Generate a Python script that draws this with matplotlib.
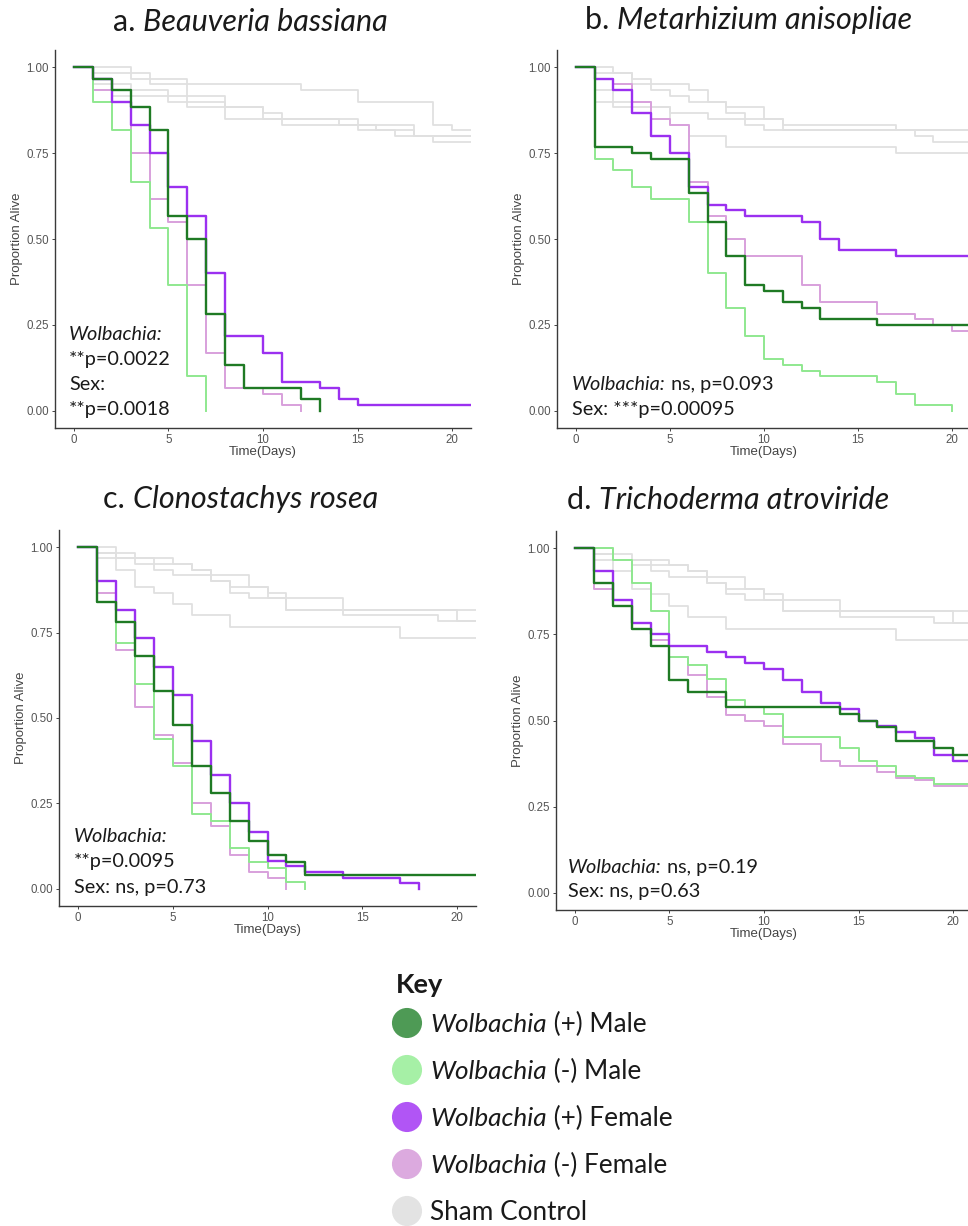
import matplotlib
matplotlib.use("Agg")
import matplotlib.pyplot as plt

W, H = 968, 1226

# ---- panel a: Beauveria bassiana ----
a_wpm_t = [0, 1, 2, 3, 4, 5, 6, 7, 8, 9, 12, 13]
a_wpm_s = [1.0, 0.967, 0.933, 0.883, 0.817, 0.567, 0.50, 0.283, 0.133, 0.067, 0.033, 0.0]
a_wmm_t = [0, 1, 2, 3, 4, 5, 6, 7]
a_wmm_s = [1.0, 0.90, 0.817, 0.667, 0.533, 0.367, 0.10, 0.0]
a_wpf_t = [0, 1, 2, 3, 4, 5, 6, 7, 8, 10, 11, 13, 14, 15, 21]
a_wpf_s = [1.0, 0.967, 0.90, 0.833, 0.75, 0.65, 0.567, 0.40, 0.217, 0.167, 0.083, 0.067, 0.033, 0.017, 0.017]
a_wmf_t = [0, 1, 2, 3, 4, 5, 6, 7, 8, 10, 11, 12]
a_wmf_s = [1.0, 0.933, 0.90, 0.75, 0.617, 0.55, 0.367, 0.167, 0.067, 0.05, 0.017, 0.0]
a_sham_t = [[0, 3, 6, 12, 15, 19, 20, 21],
            [0, 1, 4, 6, 8, 10, 11, 15, 18, 21],
            [0, 1, 3, 5, 6, 8, 10, 14, 16, 17, 19, 21],
            [0, 1, 2, 5, 6, 8, 11, 15, 18, 19, 21]]
a_sham_s = [[1.0, 0.967, 0.95, 0.933, 0.90, 0.833, 0.817, 0.817],
            [1.0, 0.983, 0.95, 0.917, 0.883, 0.867, 0.85, 0.833, 0.80, 0.80],
            [1.0, 0.95, 0.933, 0.917, 0.90, 0.883, 0.85, 0.833, 0.817, 0.80, 0.80, 0.80],
            [1.0, 0.933, 0.917, 0.90, 0.883, 0.85, 0.833, 0.817, 0.80, 0.783, 0.783]]

# ---- panel b: Metarhizium anisopliae ----
b_wpm_t = [0, 1, 3, 4, 6, 7, 8, 9, 10, 11, 12, 13, 16, 21]
b_wpm_s = [1.0, 0.767, 0.75, 0.733, 0.633, 0.55, 0.45, 0.367, 0.35, 0.317, 0.30, 0.267, 0.25, 0.25]
b_wmm_t = [0, 1, 2, 3, 4, 6, 7, 8, 9, 10, 11, 12, 13, 16, 17, 18, 20]
b_wmm_s = [1.0, 0.733, 0.70, 0.65, 0.617, 0.55, 0.40, 0.30, 0.217, 0.15, 0.133, 0.117, 0.10, 0.083, 0.05, 0.017, 0.0]
b_wpf_t = [0, 1, 2, 3, 4, 5, 6, 7, 8, 9, 12, 13, 14, 17, 21]
b_wpf_s = [1.0, 0.967, 0.933, 0.867, 0.80, 0.75, 0.65, 0.60, 0.583, 0.567, 0.55, 0.50, 0.467, 0.45, 0.45]
b_wmf_t = [0, 1, 2, 3, 4, 5, 6, 7, 8, 9, 12, 13, 16, 18, 19, 20, 21]
b_wmf_s = [1.0, 0.967, 0.95, 0.90, 0.85, 0.833, 0.667, 0.567, 0.50, 0.45, 0.367, 0.317, 0.283, 0.267, 0.25, 0.233, 0.233]
b_sham_t = [[0, 2, 3, 4, 6, 7, 8, 9, 11, 21],
            [0, 1, 3, 4, 5, 6, 8, 10, 11, 17, 18, 19, 21],
            [0, 1, 2, 5, 6, 8, 17, 21],
            [0, 1, 2, 4, 5, 7, 9, 10, 12, 21]]
b_sham_s = [[1.0, 0.983, 0.967, 0.95, 0.933, 0.90, 0.867, 0.85, 0.817, 0.817],
            [1.0, 0.983, 0.95, 0.933, 0.917, 0.90, 0.883, 0.85, 0.833, 0.817, 0.80, 0.783, 0.783],
            [1.0, 0.90, 0.883, 0.833, 0.80, 0.767, 0.75, 0.75],
            [1.0, 0.933, 0.90, 0.883, 0.867, 0.85, 0.833, 0.817, 0.817, 0.817]]

# ---- panel c: Clonostachys rosea ----
c_wpm_t = [0, 1, 2, 3, 4, 5, 6, 7, 8, 9, 10, 11, 12, 21]
c_wpm_s = [1.0, 0.84, 0.78, 0.68, 0.58, 0.48, 0.36, 0.28, 0.20, 0.14, 0.10, 0.08, 0.04, 0.04]
c_wmm_t = [0, 1, 2, 3, 4, 5, 6, 7, 8, 9, 10, 11, 12]
c_wmm_s = [1.0, 0.84, 0.72, 0.60, 0.44, 0.36, 0.22, 0.20, 0.12, 0.08, 0.06, 0.02, 0.0]
c_wpf_t = [0, 1, 2, 3, 4, 5, 6, 7, 8, 9, 10, 11, 12, 14, 17, 18]
c_wpf_s = [1.0, 0.90, 0.817, 0.733, 0.65, 0.567, 0.433, 0.333, 0.25, 0.167, 0.083, 0.067, 0.05, 0.033, 0.017, 0.0]
c_wmf_t = [0, 1, 2, 3, 4, 5, 6, 7, 8, 9, 10, 11]
c_wmf_s = [1.0, 0.867, 0.70, 0.533, 0.45, 0.367, 0.25, 0.183, 0.10, 0.05, 0.033, 0.0]

# ---- panel d: Trichoderma atroviride ----
d_wpm_t = [0, 1, 2, 3, 4, 5, 6, 8, 14, 15, 16, 17, 19, 20, 21]
d_wpm_s = [1.0, 0.90, 0.833, 0.767, 0.717, 0.617, 0.583, 0.54, 0.52, 0.50, 0.48, 0.44, 0.42, 0.40, 0.40]
d_wmm_t = [0, 2, 3, 4, 5, 6, 7, 8, 9, 10, 11, 14, 15, 16, 17, 18, 19, 21]
d_wmm_s = [1.0, 0.967, 0.90, 0.817, 0.683, 0.66, 0.62, 0.56, 0.54, 0.52, 0.453, 0.42, 0.383, 0.367, 0.34, 0.333, 0.317, 0.317]
d_wpf_t = [0, 1, 2, 3, 4, 5, 7, 8, 9, 10, 11, 12, 13, 14, 15, 16, 17, 18, 19, 20, 21]
d_wpf_s = [1.0, 0.933, 0.85, 0.783, 0.75, 0.717, 0.70, 0.683, 0.667, 0.65, 0.617, 0.583, 0.55, 0.533,
           0.50, 0.483, 0.467, 0.45, 0.40, 0.383, 0.383]
d_wmf_t = [0, 1, 2, 3, 4, 5, 6, 7, 8, 9, 10, 11, 13, 14, 16, 17, 18, 19, 21]
d_wmf_s = [1.0, 0.883, 0.833, 0.767, 0.733, 0.683, 0.633, 0.567, 0.517, 0.50, 0.483, 0.433, 0.383, 0.367,
           0.35, 0.333, 0.327, 0.31, 0.31]

# sham controls for c and d
cd_sham_t = [[0, 1, 2, 4, 6, 7, 8, 10, 11, 21],
             [0, 2, 3, 5, 6, 7, 9, 10, 11, 14, 19, 21],
             [0, 1, 3, 4, 5, 7, 8, 9, 11, 20, 21],
             [0, 1, 2, 3, 4, 5, 6, 8, 17, 21]]
cd_sham_s = [[1.0, 0.983, 0.967, 0.95, 0.933, 0.90, 0.883, 0.85, 0.817, 0.817],
             [1.0, 0.983, 0.967, 0.95, 0.933, 0.917, 0.883, 0.867, 0.85, 0.80, 0.783, 0.783],
             [1.0, 0.967, 0.95, 0.933, 0.917, 0.90, 0.867, 0.85, 0.817, 0.783, 0.783],
             [1.0, 0.983, 0.933, 0.883, 0.867, 0.833, 0.80, 0.767, 0.733, 0.733]]

titles = [("a. ", "Beauveria bassiana"), ("b. ", "Metarhizium anisopliae"),
          ("c. ", "Clonostachys rosea"), ("d. ", "Trichoderma atroviride")]

key_labels = ["(+) Male", "(-) Male", "(+) Female", "(-) Female"]

# colours
C_WPM = "#1f7a24"
C_WMM = "#8fe88f"
C_WPF = "#9b30f0"
C_WMF = "#d8a0dc"
C_SHAM = "#e0e0e0"
KEY_COLS = ["#4e9a55", "#a6f0a6", "#b155f5", "#dcaadf", "#e3e3e3"]

TXT_FONT = ["Lato", "DejaVu Sans"]
TICK_FONT = ["Liberation Sans", "DejaVu Sans"]


def px_axes(fig, left, top, right, bottom):
    return fig.add_axes([left / W, 1 - bottom / H, (right - left) / W, (bottom - top) / H])


def draw_panel(ax, sham_t, sham_s, curves):
    for t, s in zip(sham_t, sham_s):
        ax.step(t, s, where="post", color=C_SHAM, lw=1.3, zorder=1)
    for (t, s), col, lw in curves:
        ax.step(t, s, where="post", color=col, lw=lw, zorder=2)
    ax.set_xlim(-1, 21)
    ax.set_ylim(-0.05, 1.05)
    ax.set_xticks([0, 5, 10, 15, 20])
    ax.set_yticks([0, 0.25, 0.5, 0.75, 1.0])
    ax.set_yticklabels(["0.00", "0.25", "0.50", "0.75", "1.00"])
    for side in ["top", "right"]:
        ax.spines[side].set_visible(False)
    for side in ["left", "bottom"]:
        ax.spines[side].set_color("#3a3a3a")
        ax.spines[side].set_linewidth(1.0)
    ax.tick_params(length=2.5, width=0.7, color="#444444", labelcolor="#555555",
                   labelsize=8.3, pad=2)
    for lab in ax.get_xticklabels() + ax.get_yticklabels():
        lab.set_family(TICK_FONT)
    ax.set_xlabel("Time(Days)", fontsize=9.5, color="#444444", family=TICK_FONT, labelpad=0)
    ax.set_ylabel("Proportion Alive", fontsize=9.5, color="#444444", family=TICK_FONT, labelpad=2)


fig = plt.figure(figsize=(W / 100, H / 100), dpi=100)
renderer = fig.canvas.get_renderer()


def mixed_text(ov, x, y, parts, size, weight="normal"):
    # y is the visual centre of the line; all parts share one baseline
    base = y + 0.36 * size * 100 / 72
    for txt, italic in parts:
        t = ov.text(x, base, txt, fontsize=size, style="italic" if italic else "normal",
                    family=TXT_FONT, color="#1a1a1a", va="baseline", ha="left", weight=weight)
        bb = t.get_window_extent(renderer)
        x = ov.transData.inverted().transform((bb.x1, bb.y0))[0]


ax_a = px_axes(fig, 55, 50, 471, 428)
ax_b = px_axes(fig, 557, 50, 971, 428)
ax_c = px_axes(fig, 59, 530, 476, 906)
ax_d = px_axes(fig, 556, 531, 972, 910)

draw_panel(ax_a, a_sham_t, a_sham_s,
           [((a_wmf_t, a_wmf_s), C_WMF, 1.4), ((a_wmm_t, a_wmm_s), C_WMM, 1.4),
            ((a_wpf_t, a_wpf_s), C_WPF, 1.7), ((a_wpm_t, a_wpm_s), C_WPM, 1.7)])
draw_panel(ax_b, b_sham_t, b_sham_s,
           [((b_wmf_t, b_wmf_s), C_WMF, 1.4), ((b_wmm_t, b_wmm_s), C_WMM, 1.4),
            ((b_wpf_t, b_wpf_s), C_WPF, 1.7), ((b_wpm_t, b_wpm_s), C_WPM, 1.7)])
draw_panel(ax_c, cd_sham_t, cd_sham_s,
           [((c_wmf_t, c_wmf_s), C_WMF, 1.4), ((c_wmm_t, c_wmm_s), C_WMM, 1.4),
            ((c_wpf_t, c_wpf_s), C_WPF, 1.7), ((c_wpm_t, c_wpm_s), C_WPM, 1.7)])
draw_panel(ax_d, cd_sham_t, cd_sham_s,
           [((d_wmf_t, d_wmf_s), C_WMF, 1.4), ((d_wmm_t, d_wmm_s), C_WMM, 1.4),
            ((d_wpf_t, d_wpf_s), C_WPF, 1.7), ((d_wpm_t, d_wpm_s), C_WPM, 1.7)])

# overlay in pixel coordinates for titles, stats and the key
ov = fig.add_axes([0, 0, 1, 1])
ov.set_xlim(0, W)
ov.set_ylim(H, 0)
ov.axis("off")
ov.patch.set_alpha(0)

title_pos = [(113, 20), (585, 18), (103, 497), (567, 498)]
for (x, y), (pre, name) in zip(title_pos, titles):
    mixed_text(ov, x, y, [(pre, False), (name, True)], 22)

stat_size = 14.3
mixed_text(ov, 69, 333, [("Wolbachia:", True)], stat_size)
mixed_text(ov, 69, 358, [("**p=0.0022", False)], stat_size)
mixed_text(ov, 69, 383, [("Sex:", False)], stat_size)
mixed_text(ov, 69, 408, [("**p=0.0018", False)], stat_size)

mixed_text(ov, 572, 383, [("Wolbachia:", True), (" ns, p=0.093", False)], stat_size)
mixed_text(ov, 572, 408, [("Sex: ***p=0.00095", False)], stat_size)

mixed_text(ov, 74, 835, [("Wolbachia:", True)], stat_size)
mixed_text(ov, 74, 860, [("**p=0.0095", False)], stat_size)
mixed_text(ov, 74, 886, [("Sex: ns, p=0.73", False)], stat_size)

mixed_text(ov, 568, 866, [("Wolbachia:", True), (" ns, p=0.19", False)], stat_size)
mixed_text(ov, 568, 890, [("Sex: ns, p=0.63", False)], stat_size)

# key
mixed_text(ov, 396, 983, [("Key", False)], 19.5, weight="bold")
key_y = [1023, 1070, 1117, 1164, 1211]
ov.scatter([407] * 5, key_y, s=470, c=KEY_COLS, linewidths=0)
for y, lab in zip(key_y[:4], key_labels):
    mixed_text(ov, 430, y, [("Wolbachia", True), (" " + lab, False)], 18.8)
mixed_text(ov, 430, key_y[4], [("Sham Control", False)], 18.8)

fig.savefig("out.png", dpi=100)
